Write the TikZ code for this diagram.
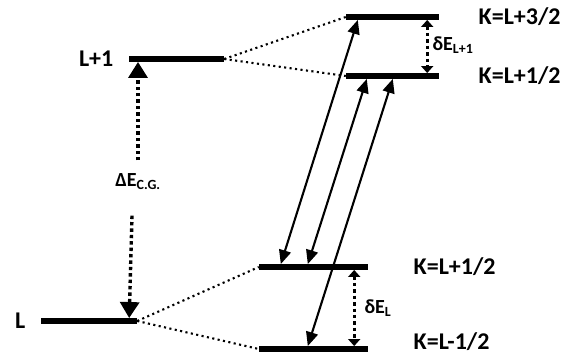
\documentclass[tikz,border=0pt]{standalone}
\usepackage{fontspec}
\setmainfont{Carlito}
\usetikzlibrary{arrows.meta, positioning}

\begin{document}
\begin{tikzpicture}[x=1pt, y=-1pt,
        level/.style={fill, inner sep=0pt, minimum height=5.5pt},
        split/.style={line width=2.1pt, dash pattern=on 2.1pt off 3.4pt},
        trans/.style={line width=2.1pt, {Triangle[length=14pt,width=12pt]}-{Triangle[length=14pt,width=12pt]}},
        gap/.style={line width=3.4pt, dash pattern=on 3.4pt off 3pt},
        lbl/.style={font=\fontsize{24}{28}\selectfont\bfseries, inner ysep=0.5pt},
        slbl/.style={font=\fontsize{20}{24}\selectfont\bfseries}
    ]
        \useasboundingbox (0,0) rectangle (567,356);

        % Levels
        \node [level, minimum width=95pt](Lp1) at (176.5,59) {};
        \node [level, minimum width=96pt](L0) at (89,321) {};
        \node [level, minimum width=93pt](K32) at (392.5,17) {};
        \node [level, minimum width=93pt](K12u) at (392.5,76) {};
        \node [level, minimum width=109pt](K12d) at (313.5,267) {};
        \node [level, minimum width=109pt](Km12) at (313.5,349) {};

        % Level names
        \node [lbl, left=12pt of Lp1](tLp1) {L+1};
        \node [lbl, left=12pt of L0](tL0) {L};
        \node [lbl, right=36pt of K32](tK32) {K=L+3/2};
        \node [lbl, right=36pt of K12u](tK12u) {K=L+1/2};
        \node [lbl, right=42pt of K12d](tK12d) {K=L+1/2};
        \node [lbl, right=42pt of Km12, yshift=7pt](tKm12) {K=L-1/2};

        % Splitting
        \draw[split] (Lp1.east) -- (K32.west);
        \draw[split] (Lp1.east) -- (K12u.west);
        \draw[split] (L0.east) -- (K12d.west);
        \draw[split] (L0.east) -- (Km12.west);

        % Gaps
        \node [slbl](tdEcg) at (138,182) {ΔE\textsubscript{C.G.}};
        \draw[gap, -{Triangle[length=16pt,width=19pt]}] ([yshift=10pt]tdEcg.north) -- (tdEcg.north |- Lp1.south);
        \draw[gap, -{Triangle[length=16pt,width=19pt]}] ([xshift=-6pt,yshift=-22pt]tdEcg.south) -- ([xshift=-8pt]L0.north east);
        \draw[gap, line width=2.8pt, {Triangle[length=7pt,width=12pt]}-{Triangle[length=7pt,width=12pt]}] ([xshift=-12pt]K32.south east) -- ([xshift=-12pt]K12u.north east);
        \draw[gap, line width=2.8pt, {Triangle[length=7pt,width=12pt]}-{Triangle[length=7pt,width=12pt]}] ([xshift=-14pt]K12d.south east) -- ([xshift=-14pt]Km12.north east);
        \node [slbl, anchor=west](tdEu) at (429,45) {δE\textsubscript{L+1}};
        \node [slbl, anchor=west](tdEd) at (361,308) {δE\textsubscript{L}};

        % Transitions
        \draw[trans] ([xshift=12pt]K32.south west) -- ([xshift=22pt]K12d.north west);
        \draw[trans] ([xshift=21pt]K12u.south west) -- ([xshift=49pt]K12d.north west);
        \draw[trans] ([xshift=47pt]K12u.south west) -- ([xshift=49pt]Km12.north west);
    \end{tikzpicture}
\end{document}
